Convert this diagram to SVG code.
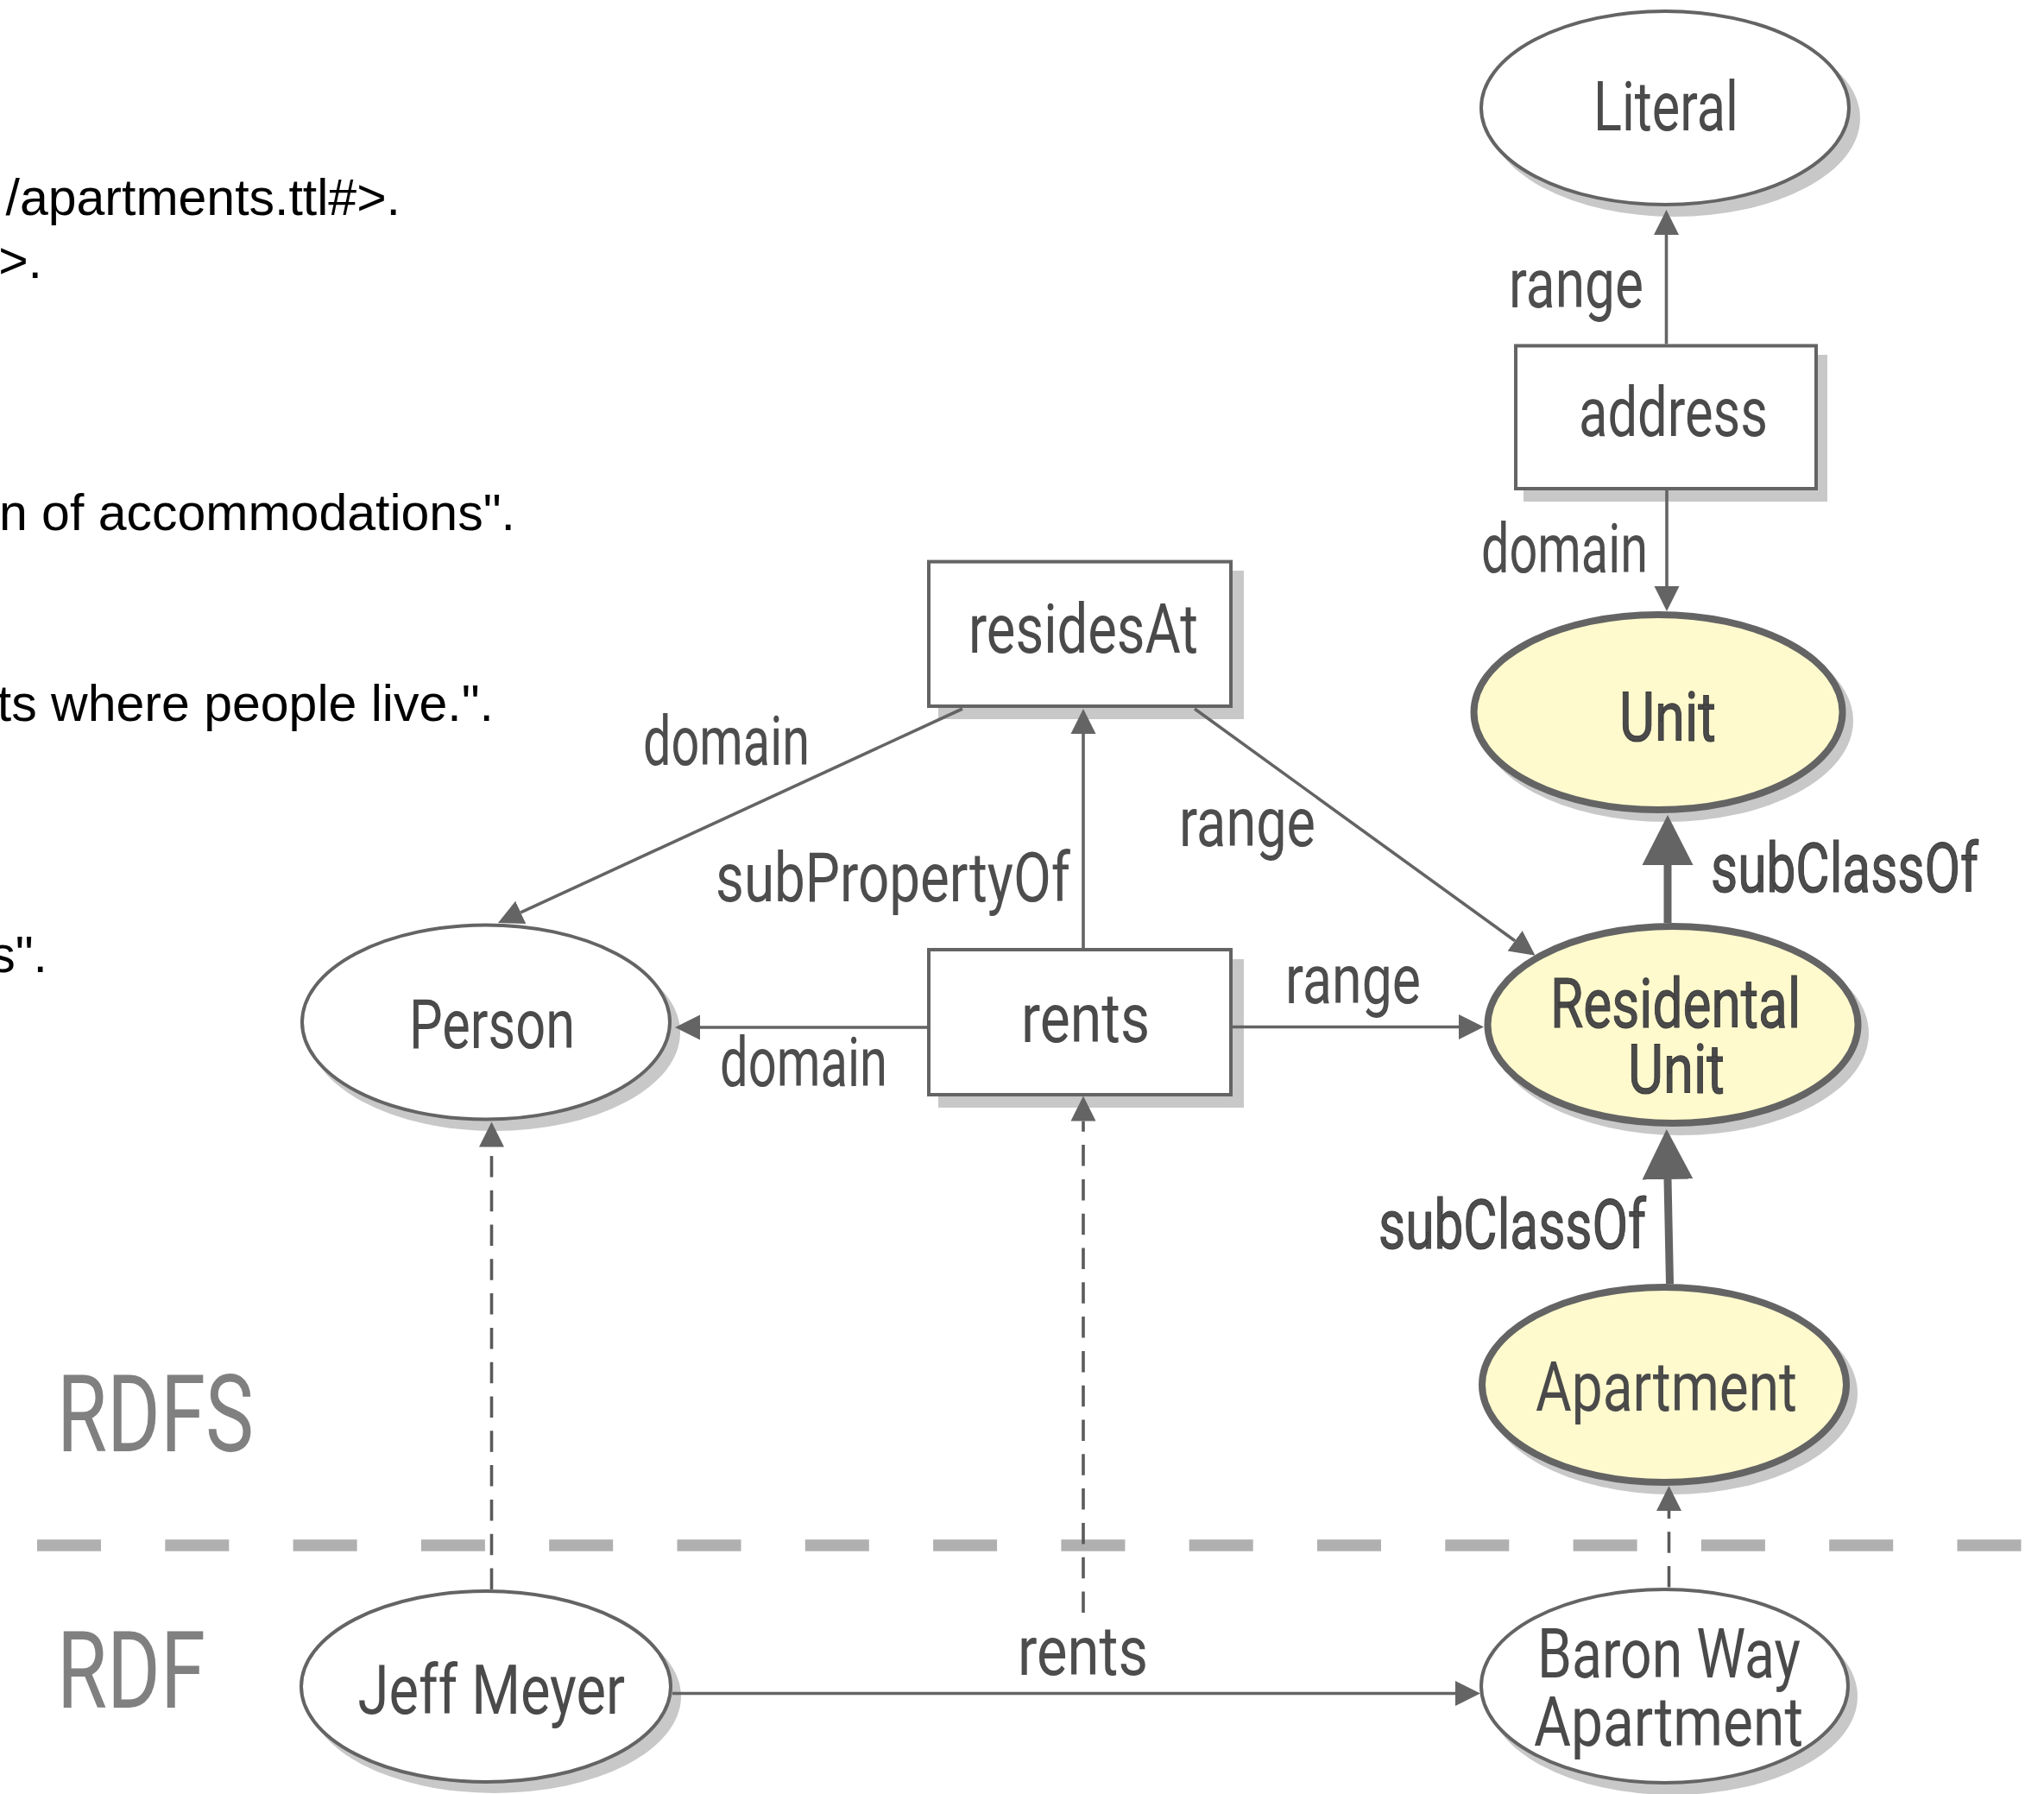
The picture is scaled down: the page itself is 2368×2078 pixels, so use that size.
<svg xmlns="http://www.w3.org/2000/svg" width="2368" height="2078" viewBox="0 0 2368 2078">
<style>
.bg{fill:#fff}
.n{font-family:Roboto,"DejaVu Sans",sans-serif;font-size:80px;font-weight:400;fill:#4a4a4a}
.o{stroke:#3a3a3a;stroke-width:1.1}
.lbl{font-family:Roboto,"DejaVu Sans",sans-serif;font-size:80px;font-weight:400;fill:#4d4d4d}
.layer{font-family:Roboto,"DejaVu Sans",sans-serif;font-size:124px;fill:#808080}
.code{font-family:"Liberation Sans",Arial,sans-serif;font-size:59px;fill:#000;text-anchor:end}
.ln{stroke:#646464;stroke-width:3.6;fill:none}
.thk{stroke:#646464;stroke-width:9;fill:none}
.dsh{stroke:#5a5a5a;stroke-width:3.6;fill:none;stroke-dasharray:24.5 15.3}
.sep{stroke:#b0b0b0;stroke-width:13.5;stroke-dasharray:74 74.3}
.sh{fill:#c8c8c8}
.plain{fill:#fff;stroke:#646464;stroke-width:4}
.cls{fill:#fffacd;stroke:#646464;stroke-width:8}
</style>
<defs>
<marker id="ah" markerUnits="userSpaceOnUse" viewBox="0 -16 30 32" refX="0" refY="0" markerWidth="30" markerHeight="32" orient="auto"><path d="M0,-14.5 L29,0 L0,14.5 Z" fill="#646464"/></marker>
<marker id="ahT" markerUnits="userSpaceOnUse" viewBox="0 -31 60 62" refX="0" refY="0" markerWidth="60" markerHeight="62" orient="auto"><path d="M0,-29.5 L58,0 L0,29.5 Z" fill="#646464"/></marker>
</defs>
<rect class="bg" x="0" y="0" width="2368" height="2078"/>

<g id="code">
<text class="code" x="464" y="249">/apartments.ttl#&gt;.</text>
<text class="code" x="49" y="322">&gt;.</text>
<text class="code" x="597" y="614">n of accommodations".</text>
<text class="code" x="572" y="835">ts where people live.".</text>
<text class="code" x="55" y="1126">s".</text>
</g>

<g id="separator">
<line class="sep" x1="43" y1="1790" x2="2368" y2="1790"/>
<text class="layer" x="66" y="1680.6" textLength="228" lengthAdjust="spacingAndGlyphs">RDFS</text>
<text class="layer" x="66" y="1978" textLength="172" lengthAdjust="spacingAndGlyphs">RDF</text>
</g>

<g id="node-literal">
<ellipse class="sh" cx="1940" cy="137" rx="215" ry="114"/>
<ellipse class="plain" cx="1929" cy="125" rx="213" ry="112"/>
<text class="n" x="1846" y="150.6" textLength="168" lengthAdjust="spacingAndGlyphs">Literal</text>
</g>

<g id="node-address">
<rect class="sh" x="1765" y="411" width="352" height="170"/>
<rect class="plain" x="1756" y="400.5" width="348" height="165.5"/>
<text class="n" x="1829" y="505" textLength="219" lengthAdjust="spacingAndGlyphs">address</text>
</g>

<g id="node-unit">
<ellipse class="sh" cx="1930" cy="835" rx="217" ry="117"/>
<ellipse class="cls" cx="1921" cy="825" rx="213.5" ry="113"/>
<text class="n o" x="1876" y="857.5" textLength="112" lengthAdjust="spacingAndGlyphs">Unit</text>
</g>

<g id="node-residesAt">
<rect class="sh" x="1087" y="661" width="354" height="172"/>
<rect class="plain" x="1076" y="650.6" width="350" height="167.4"/>
<text class="n" x="1122" y="755.5" textLength="266" lengthAdjust="spacingAndGlyphs">residesAt</text>
</g>

<g id="node-rents">
<rect class="sh" x="1087" y="1111" width="354" height="172"/>
<rect class="plain" x="1076" y="1100" width="350" height="168"/>
<text class="n" x="1183" y="1206.5" textLength="149" lengthAdjust="spacingAndGlyphs">rents</text>
</g>

<g id="node-person">
<ellipse class="sh" cx="573" cy="1196" rx="215" ry="114"/>
<ellipse class="plain" cx="563" cy="1184" rx="213" ry="112.5"/>
<text class="n" x="474" y="1214" textLength="192" lengthAdjust="spacingAndGlyphs">Person</text>
</g>

<g id="node-residental">
<ellipse class="sh" cx="1947" cy="1197" rx="218" ry="118"/>
<ellipse class="cls" cx="1938" cy="1187" rx="214.5" ry="114"/>
<text class="n o" x="1796" y="1189.6" textLength="290" lengthAdjust="spacingAndGlyphs">Residental</text>
<text class="n o" x="1886" y="1265.7" textLength="112" lengthAdjust="spacingAndGlyphs">Unit</text>
</g>

<g id="node-apartment">
<ellipse class="sh" cx="1937" cy="1614" rx="215" ry="117"/>
<ellipse class="cls" cx="1928" cy="1604" rx="211" ry="113"/>
<text class="n" x="1779" y="1633.5" textLength="303" lengthAdjust="spacingAndGlyphs">Apartment</text>
</g>

<g id="node-jeff">
<ellipse class="sh" cx="573" cy="1965" rx="216" ry="112"/>
<ellipse class="plain" cx="563" cy="1953.5" rx="214" ry="110.5"/>
<text class="n" x="414.5" y="1985" textLength="309.5" lengthAdjust="spacingAndGlyphs">Jeff Meyer</text>
</g>

<g id="node-baron">
<ellipse class="sh" cx="1938" cy="1965" rx="214" ry="114"/>
<ellipse class="plain" cx="1928.5" cy="1953" rx="212.5" ry="112"/>
<text class="n" x="1781" y="1943" textLength="305" lengthAdjust="spacingAndGlyphs">Baron Way</text>
<text class="n" x="1777" y="2022" textLength="312" lengthAdjust="spacingAndGlyphs">Apartment</text>
</g>

<g id="connectors">
<path class="ln" d="M1930.5,398.5 L1930.5,272" marker-end="url(#ah)"/>
<path class="ln" d="M1931,568 L1931,679" marker-end="url(#ah)"/>
<path class="ln" d="M1255,1098 L1255,850" marker-end="url(#ah)"/>
<path class="ln" d="M1115,821 L603.3,1056.9" marker-end="url(#ah)"/>
<path class="ln" d="M1384,821 L1755.1,1089.8" marker-end="url(#ah)"/>
<path class="ln" d="M1428,1189.5 L1690,1189.5" marker-end="url(#ah)"/>
<path class="ln" d="M1074,1190 L811,1190" marker-end="url(#ah)"/>
<path class="thk" d="M1932,1069 L1932,1002" marker-end="url(#ahT)"/>
<path class="thk" d="M1934.5,1487 L1932,1366" marker-end="url(#ahT)"/>
<path class="dsh" d="M569.5,1841 L569.5,1328.5" marker-end="url(#ah)"/>
<path class="ln" d="M779,1961.5 L1686,1961.5" marker-end="url(#ah)"/>
<path class="dsh" d="M1255,1868 L1255,1298.5" marker-end="url(#ah)"/>
<path class="dsh" d="M1933.5,1838.5 L1933.5,1750" marker-end="url(#ah)"/>

<text class="lbl" x="1748" y="356" textLength="156" lengthAdjust="spacingAndGlyphs">range</text>
<text class="lbl" x="1716" y="663" textLength="193" lengthAdjust="spacingAndGlyphs">domain</text>
<text class="lbl" x="829" y="1044" textLength="411" lengthAdjust="spacingAndGlyphs">subPropertyOf</text>
<text class="lbl" x="745" y="886" textLength="193" lengthAdjust="spacingAndGlyphs">domain</text>
<text class="lbl" x="1366" y="979.5" textLength="158" lengthAdjust="spacingAndGlyphs">range</text>
<text class="lbl" x="1489" y="1162" textLength="157" lengthAdjust="spacingAndGlyphs">range</text>
<text class="lbl" x="834" y="1258" textLength="194" lengthAdjust="spacingAndGlyphs">domain</text>
<text class="lbl o" x="1982" y="1033" textLength="310" lengthAdjust="spacingAndGlyphs">subClassOf</text>
<text class="lbl o" x="1597" y="1445.5" textLength="310" lengthAdjust="spacingAndGlyphs">subClassOf</text>
<text class="lbl" x="1179" y="1940" textLength="151" lengthAdjust="spacingAndGlyphs">rents</text>
</g>
</svg>
